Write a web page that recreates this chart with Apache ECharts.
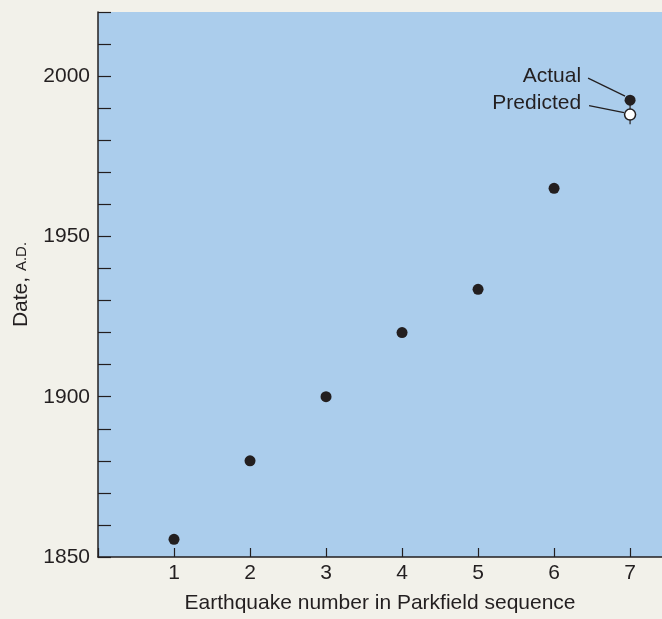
<!DOCTYPE html>
<html>
<head>
<meta charset="utf-8">
<title>Parkfield sequence</title>
<script src="https://cdn.jsdelivr.net/npm/echarts@6.0.0/dist/echarts.min.js"></script>
<style>
    html, body { margin: 0; padding: 0; background: #f2f1ea; }
    #chart { width: 662px; height: 619px; }
</style>
</head>
<body>
<div id="chart"></div>
<script>
    // data
    var quakeNumbers = [1, 2, 3, 4, 5, 6, 7];
    var quakeYears = [1855.5, 1880, 1900, 1920, 1933.5, 1965, 1992.5];
    var predictedNumber = 7;
    var predictedYear = 1988;
    var predictedRange = [1985, 1991];
    var noteLabels = ['Actual', 'Predicted'];

    var ink = '#231f20';
    var fontName = '"Liberation Sans", Arial, sans-serif';

    var myChart = echarts.init(document.getElementById('chart'));

    var option = {
        backgroundColor: '#f2f1ea',
        animation: false,
        textStyle: { fontFamily: fontName, color: ink },
        grid: {
            left: 98, right: 0, top: 12, bottom: 62,
            show: true, backgroundColor: '#abcdec', borderWidth: 0
        },
        xAxis: {
            type: 'value',
            min: 0, max: 7.42, interval: 1,
            name: 'Earthquake number in Parkfield sequence',
            nameLocation: 'middle',
            nameGap: 36,
            nameTextStyle: { fontSize: 21, color: ink, fontFamily: fontName },
            splitLine: { show: false },
            axisLine: { lineStyle: { color: ink, width: 1.5 } },
            axisTick: { inside: true, length: 9, lineStyle: { color: ink, width: 1.2 } },
            axisLabel: {
                fontSize: 21, color: ink, margin: 6, showMaxLabel: false,
                formatter: function (v) {
                    return (v === 0 || v % 1 !== 0) ? '' : String(v);
                }
            }
        },
        yAxis: {
            type: 'value',
            min: 1850, max: 2020, interval: 10,
            name: '{a|Date, }{b|A.D.}',
            nameLocation: 'middle',
            nameGap: 66,
            nameRotate: 90,
            nameTextStyle: {
                rich: {
                    a: { fontSize: 21, color: ink, fontFamily: fontName },
                    b: { fontSize: 15, color: ink, fontFamily: fontName }
                }
            },
            splitLine: { show: false },
            axisLine: { show: true, lineStyle: { color: ink, width: 1.5 } },
            axisTick: { inside: true, length: 13, lineStyle: { color: ink, width: 1.2 } },
            axisLabel: {
                fontSize: 21, color: ink, margin: 8,
                formatter: function (v) {
                    return (v % 50 === 0) ? String(v) : '';
                }
            }
        },
        series: [
            {
                name: 'Dates',
                type: 'scatter',
                symbolSize: 11,
                itemStyle: { color: ink, opacity: 1 },
                z: 3,
                data: quakeNumbers.map(function (n, i) { return [n, quakeYears[i]]; })
            },
            {
                name: 'Range',
                type: 'line',
                symbol: 'none',
                lineStyle: { color: ink, width: 1.2 },
                z: 2,
                data: [[predictedNumber, predictedRange[0]], [predictedNumber, predictedRange[1]]]
            },
            {
                name: 'Predicted',
                type: 'scatter',
                symbol: 'circle',
                symbolSize: 11,
                itemStyle: { color: '#ffffff', borderColor: ink, borderWidth: 1.5, opacity: 1 },
                z: 4,
                data: [[predictedNumber, predictedYear]]
            }
        ]
    };

    if (option && typeof option === "object") {
        myChart.setOption(option, true);
    }

    // leader labels next to the last points
    var actualPt = myChart.convertToPixel({ gridIndex: 0 }, [quakeNumbers[6], quakeYears[6]]);
    var predPt = myChart.convertToPixel({ gridIndex: 0 }, [predictedNumber, predictedYear]);

    myChart.setOption({
        graphic: [
            {
                type: 'text', z: 10,
                style: {
                    text: noteLabels[0], x: actualPt[0] - 49, y: actualPt[1] - 24,
                    align: 'right', verticalAlign: 'middle',
                    font: '21px ' + fontName, fill: ink
                }
            },
            {
                type: 'line', z: 10,
                shape: { x1: actualPt[0] - 42, y1: actualPt[1] - 22, x2: actualPt[0] - 5, y2: actualPt[1] - 4 },
                style: { stroke: ink, lineWidth: 1.2 }
            },
            {
                type: 'text', z: 10,
                style: {
                    text: noteLabels[1], x: predPt[0] - 49, y: predPt[1] - 11,
                    align: 'right', verticalAlign: 'middle',
                    font: '21px ' + fontName, fill: ink
                }
            },
            {
                type: 'line', z: 10,
                shape: { x1: predPt[0] - 41, y1: predPt[1] - 9, x2: predPt[0] - 6, y2: predPt[1] - 2 },
                style: { stroke: ink, lineWidth: 1.2 }
            }
        ]
    });
</script>
</body>
</html>
